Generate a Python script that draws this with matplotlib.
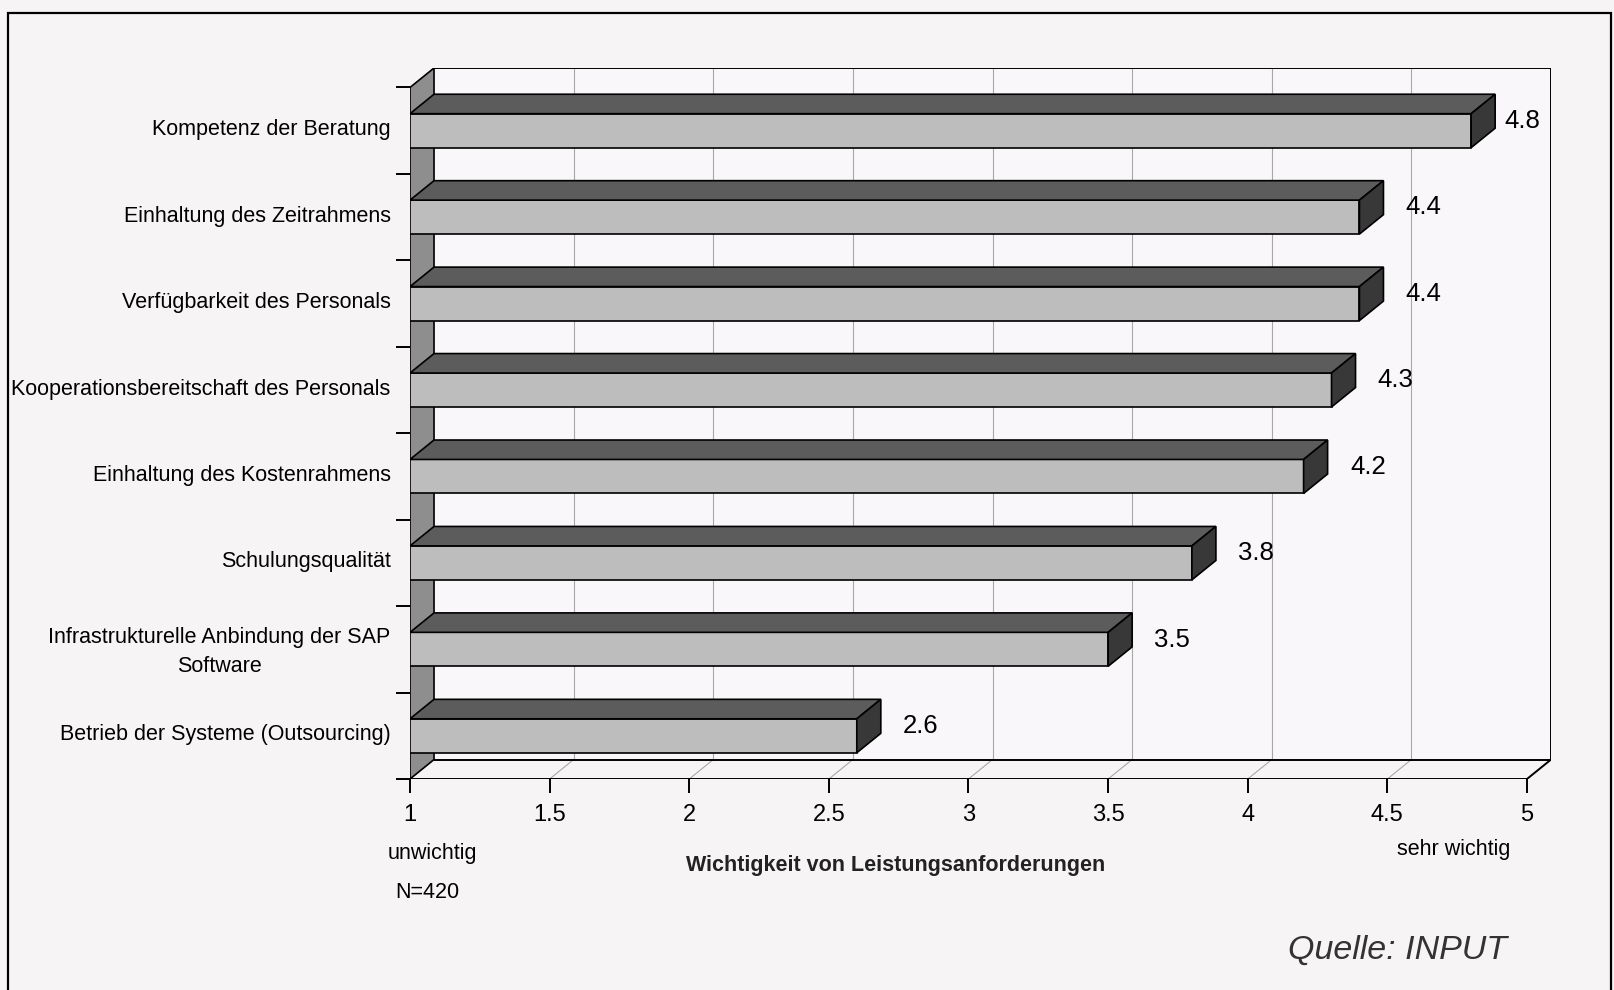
import matplotlib
matplotlib.use("Agg")
import matplotlib.pyplot as plt
from matplotlib.patches import Polygon, Rectangle

plt.rcParams['font.family'] = ['Liberation Sans', 'DejaVu Sans']

# data (top to bottom as in the chart)
kategorien = ['Kompetenz der Beratung',
              'Einhaltung des Zeitrahmens',
              'Verfügbarkeit des Personals',
              'Kooperationsbereitschaft des Personals',
              'Einhaltung des Kostenrahmens',
              'Schulungsqualität',
              'Infrastrukturelle Anbindung der SAP\nSoftware',
              'Betrieb der Systeme (Outsourcing)']
werte = [4.8, 4.4, 4.4, 4.3, 4.2, 3.8, 3.5, 2.6]
xticks = [1, 1.5, 2, 2.5, 3, 3.5, 4, 4.5, 5]
xticklabels = ['1', '1.5', '2', '2.5', '3', '3.5', '4', '4.5', '5']

# 3d look
DX = 0.086      # depth in x units
DY = 0.225      # depth in y units
H = 0.393       # bar height (front face)

bg = '#f7f4f6'
c_front = '#bdbdbd'
c_top = '#5c5c5c'
c_side = '#383838'
c_wall = '#8e8e8e'

fig = plt.figure(figsize=(16.14, 9.90), dpi=100, facecolor=bg)
ax = fig.add_axes([410/1614, 211/990, 1141/1614, 711/990])
ax.set_facecolor(bg)
n = len(werte)
ax.set_xlim(1, 5 + DX)
ax.set_ylim(0, n + DY)
for s in ax.spines.values():
    s.set_visible(False)

# back wall + grid
ax.add_patch(Rectangle((1 + DX, DY), 4, n, facecolor='#f9f7f9', edgecolor='none', zorder=0))
for t in xticks[1:-1]:
    ax.plot([t + DX, t + DX], [DY, n + DY], color='#a8a8a8', lw=0.8, zorder=1)
    ax.plot([t, t + DX], [0, DY], color='#a8a8a8', lw=0.8, zorder=1)

# left wall
ax.add_patch(Polygon([(1, 0), (1, n), (1 + DX, n + DY), (1 + DX, DY)], closed=True,
                     facecolor=c_wall, edgecolor='black', lw=1.2, zorder=1.5))

# frame lines
kw = dict(color='black', lw=1.4, zorder=5, solid_capstyle='butt')
ax.plot([1, 5], [0, 0], **kw)
ax.plot([1 + DX, 5 + DX], [DY, DY], **kw)
ax.plot([5, 5 + DX], [0, DY], **kw)
ax.plot([5 + DX, 5 + DX], [DY, n + DY], **kw)
ax.plot([1 + DX, 5 + DX], [n + DY, n + DY], **kw)

# bars
ys = [n - 1 - i + 0.5 for i in range(n)]
ax.barh(ys, [v - 1 for v in werte], height=H, left=1, color=c_front,
        edgecolor='black', linewidth=1.2, zorder=3)
for y, v in zip(ys, werte):
    top = y + H / 2
    bot = y - H / 2
    ax.add_patch(Polygon([(1, top), (v, top), (v + DX, top + DY), (1 + DX, top + DY)],
                         closed=True, facecolor=c_top, edgecolor='black', lw=1.2, zorder=3))
    ax.add_patch(Polygon([(v, bot), (v, top), (v + DX, top + DY), (v + DX, bot + DY)],
                         closed=True, facecolor=c_side, edgecolor='black', lw=1.2, zorder=3))
    xl = min(v + DX + 0.08, 4.92)
    ax.text(xl, y + DY * 0.5, '%.1f' % v, fontsize=18.5, ha='left', va='center', zorder=6)

# ticks
ax.set_xticks(xticks)
ax.set_xticklabels(xticklabels, fontsize=17)
ax.tick_params(axis='x', direction='out', length=10, width=1.4, pad=8)
ax.set_yticks(range(n + 1))
ax.set_yticklabels([])
ax.tick_params(axis='y', which='major', direction='out', length=10, width=1.4)
ax.set_yticks([y + 0.04 for y in ys], kategorien, minor=True)
ax.tick_params(axis='y', which='minor', length=0, pad=14, labelsize=15.5)
for lab in ax.get_yticklabels(minor=True):
    lab.set_multialignment('center')
    lab.set_linespacing(1.5)

# extra texts
fig.text(432/1614, 1 - 854/990, 'unwichtig', fontsize=15.5, ha='center', va='center')
fig.text(427/1614, 1 - 892/990, 'N=420', fontsize=15.5, ha='center', va='center')
fig.text(1454/1614, 1 - 850/990, 'sehr wichtig', fontsize=15.5, ha='center', va='center')
fig.text(896/1614, 1 - 865/990, 'Wichtigkeit von Leistungsanforderungen', fontsize=15.5,
         fontweight='bold', ha='center', va='center', color='#222222')
fig.text(1398/1614, 1 - 950/990, 'Quelle: INPUT', fontsize=24.5, style='italic',
         ha='center', va='center', color='#333333')

# outer frame
fig.patches.append(Rectangle((8/1614, -0.02), 1603/1614, 1 - 13/990 + 0.02,
                             transform=fig.transFigure, fill=False, edgecolor='black', lw=1.6))

fig.savefig('out.png', dpi=100, facecolor=bg)
